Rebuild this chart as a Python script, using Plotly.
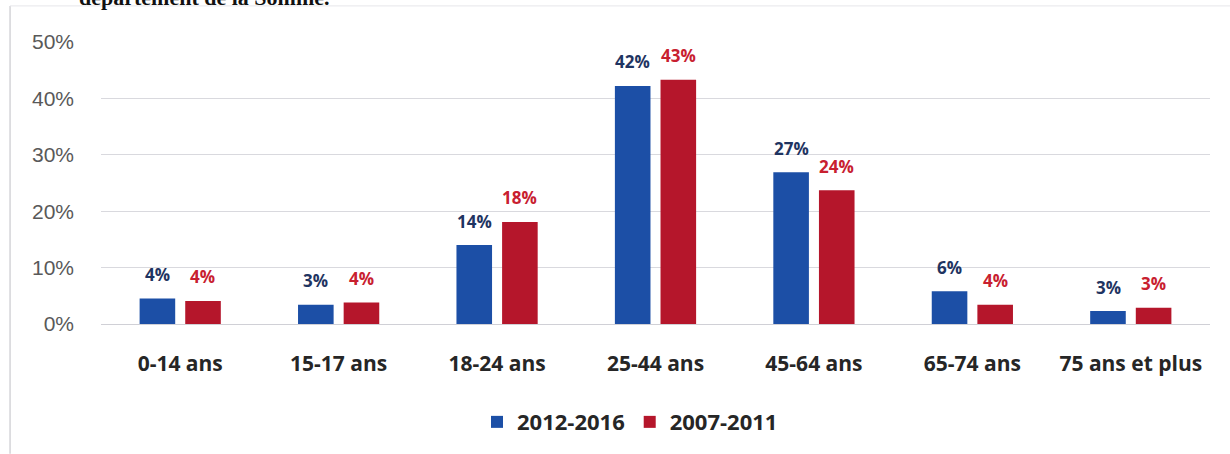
import plotly.graph_objects as go

# age groups and shares (%)
categories = ["0-14 ans", "15-17 ans", "18-24 ans", "25-44 ans", "45-64 ans", "65-74 ans", "75 ans et plus"]
values_2012_2016 = [4.5, 3.4, 14.0, 42.2, 26.9, 5.8, 2.3]
values_2007_2011 = [4.1, 3.8, 18.1, 43.3, 23.7, 3.4, 2.9]
labels_2012_2016 = ["4%", "3%", "14%", "42%", "27%", "6%", "3%"]
labels_2007_2011 = ["4%", "4%", "18%", "43%", "24%", "4%", "3%"]

BLUE = "#1c4fa6"
RED = "#b5162b"
NAVY = "#1f3461"
LABEL_RED = "#c8202f"

fig = go.Figure()
fig.add_trace(go.Bar(x=categories, y=values_2012_2016, name="2012-2016",
                     marker_color=BLUE, marker_line_width=0))
fig.add_trace(go.Bar(x=categories, y=values_2007_2011, name="2007-2011",
                     marker_color=RED, marker_line_width=0))

# value labels above each bar (shifted sideways onto their own bar)
annotations = []
for cat, v, t in zip(categories, values_2012_2016, labels_2012_2016):
    annotations.append(dict(x=cat, y=v, text="<b>%s</b>" % t, showarrow=False,
                            xshift=-22.75, yshift=24,
                            font=dict(family="Open Sans", size=17, color=NAVY)))
for cat, v, t in zip(categories, values_2007_2011, labels_2007_2011):
    annotations.append(dict(x=cat, y=v, text="<b>%s</b>" % t, showarrow=False,
                            xshift=22.75, yshift=24,
                            font=dict(family="Open Sans", size=17, color=LABEL_RED)))

# bit of the caption above, cut off by the page edge
annotations.append(dict(xref="paper", yref="paper", x=0.208, y=1.108,
                        xanchor="right", yanchor="bottom", showarrow=False,
                        text="<b>département de la Somme.</b>",
                        font=dict(family="Liberation Serif", size=22, color="#111111")))

fig.update_layout(
    width=1230, height=454,
    margin=dict(l=101, r=20, t=42, b=129),
    paper_bgcolor="white", plot_bgcolor="white",
    barmode="group", bargap=0.424, bargroupgap=0.22,
    annotations=annotations,
    showlegend=True,
    legend=dict(orientation="h", x=0.477, y=-0.343, xanchor="center", yanchor="middle",
                font=dict(family="Open Sans", size=22, color="#262626", weight="bold"),
                itemwidth=30, tracegroupgap=0),
    shapes=[
        dict(type="line", xref="paper", yref="paper", x0=-0.082, x1=-0.082, y0=1.128, y1=-0.46,
             line=dict(color="#d4d4d8", width=1.5)),
        dict(type="line", xref="paper", yref="paper", x0=-0.082, x1=1.02, y0=1.128, y1=1.128,
             line=dict(color="#e6e6ea", width=1)),
    ],
)
fig.update_xaxes(
    showgrid=False, showline=False, ticks="",
    tickfont=dict(family="Open Sans", size=21, color="#262626", weight="bold"),
    ticklabelstandoff=25,
)
fig.update_yaxes(
    range=[0, 50], dtick=10, ticksuffix="%",
    showgrid=True, gridcolor="#d9d9de", gridwidth=1,
    zeroline=True, zerolinecolor="#d0d0d6", zerolinewidth=1,
    tickfont=dict(family="Liberation Sans", size=21, color="#595959"),
    ticklabelstandoff=26,
)

fig.write_html("out.html", config={"displayModeBar": False},
               post_script="document.body.style.margin='0';")
